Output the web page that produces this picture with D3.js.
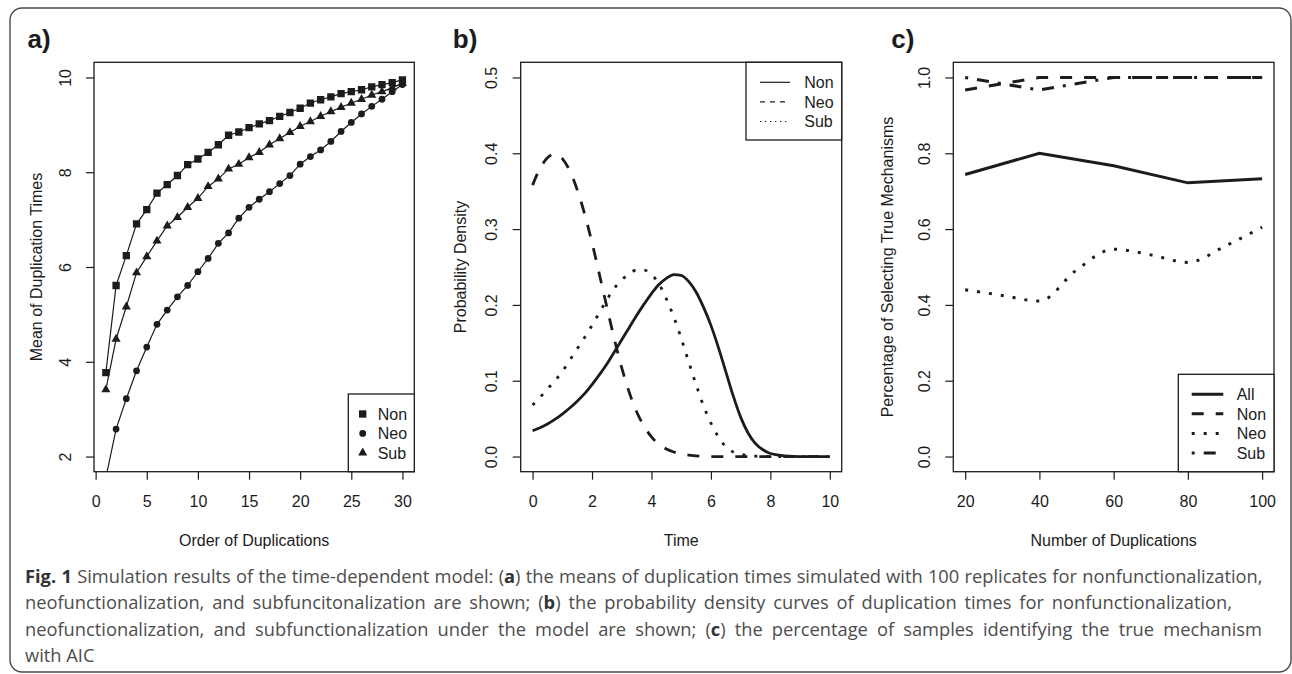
<!DOCTYPE html>
<html>
<head>
<meta charset="utf-8">
<script src="https://cdn.jsdelivr.net/npm/d3@7"></script>
<style>
  body { margin: 0; background: #fff; }
  svg text { font-family: "Liberation Sans", Arial, Helvetica, sans-serif; }
  svg text.caption { font-family: "Open Sans", "Noto Sans", sans-serif; }
</style>
</head>
<body>
<svg id="fig" width="1292" height="674"></svg>
<script>
// ---------- data ----------
// a) mean of duplication times by order of duplication
const orderA = [1,2,3,4,5,6,7,8,9,10,11,12,13,14,15,16,17,18,19,20,21,22,23,24,25,26,27,28,29,30];
const meanNon = [3.77,5.61,6.24,6.91,7.21,7.56,7.74,7.93,8.16,8.28,8.42,8.58,8.78,8.85,8.94,9.02,
                 9.09,9.18,9.26,9.35,9.46,9.53,9.59,9.66,9.70,9.74,9.80,9.85,9.89,9.95];
const meanNeo = [1.55,2.58,3.22,3.81,4.31,4.79,5.09,5.37,5.61,5.90,6.18,6.50,6.72,7.03,7.26,7.43,
                 7.59,7.76,7.93,8.17,8.33,8.47,8.65,8.86,9.05,9.23,9.39,9.54,9.70,9.85];
const meanSub = [3.41,4.48,5.16,5.88,6.22,6.55,6.87,7.05,7.26,7.45,7.70,7.86,8.07,8.17,8.31,8.42,
                 8.58,8.71,8.84,8.97,9.07,9.18,9.28,9.37,9.46,9.54,9.63,9.70,9.78,9.88];

// b) probability density of duplication times
const timeB = [0,0.25,0.5,0.75,1,1.25,1.5,1.75,2,2.25,2.5,2.75,3,3.25,3.5,3.75,4,4.25,4.5,4.75,
               5,5.25,5.5,5.75,6,6.25,6.5,6.75,7,7.25,7.5,7.75,8,8.5,9,9.5,10];
const densNon = [0.034,0.038,0.043,0.049,0.056,0.064,0.073,0.083,0.095,0.108,0.122,0.138,0.154,0.170,
                 0.186,0.201,0.215,0.227,0.235,0.240,0.239,0.231,0.217,0.197,0.173,0.144,0.112,0.080,
                 0.052,0.031,0.017,0.009,0.004,0.001,0,0,0];
const densNeo = [0.358,0.380,0.394,0.399,0.393,0.377,0.352,0.320,0.282,0.240,0.197,0.155,0.117,0.085,
                 0.059,0.040,0.026,0.016,0.010,0.006,0.003,0.002,0.001,0,0,0,0,0,
                 0,0,0,0,0,0,0,0,0];
const densSub = [0.068,0.078,0.089,0.100,0.112,0.127,0.142,0.157,0.173,0.190,0.207,0.222,0.233,0.241,
                 0.246,0.246,0.240,0.228,0.208,0.184,0.156,0.125,0.095,0.067,0.044,0.026,0.013,0.006,
                 0.003,0.001,0.0005,0,0,0,0,0,0];

// c) percentage of selecting the true mechanism
const nDup = [20,40,60,80,100];
const pctAll = [0.744,0.800,0.767,0.722,0.733];
const pctNon = [0.967,1,1,1,1];
const pctSub = [1,0.967,1,1,1];
const nDupNeo = [20,30,40,50,60,70,80,90,100];
const pctNeo = [0.440,0.425,0.410,0.492,0.547,0.532,0.512,0.555,0.605];

const mechLabels = ["Non", "Neo", "Sub"];
const mechLabelsC = ["All", "Non", "Neo", "Sub"];

const captionLines = [
  "Simulation results of the time-dependent model: (a) the means of duplication times simulated with 100 replicates for nonfunctionalization,",
  "neofunctionalization, and subfuncitonalization are shown; (b) the probability density curves of duplication times for nonfunctionalization,",
  "neofunctionalization, and subfunctionalization under the model are shown; (c) the percentage of samples identifying the true mechanism",
  "with AIC"
];
// right edge each caption line is justified to (null = ragged)
const captionRight = [1262, 1232, 1262, null];

// ---------- layout ----------
const ink = "#1c1c1c";
const plotTop = 62.3, plotBottom = 471.7;
const svg = d3.select("#fig");

// R style axis range: data range padded by 4% each side
function padR(dom) {
  const s = (dom[1] - dom[0]) * 0.04;
  return [dom[0] - s, dom[1] + s];
}

// outer rounded frame of the figure
svg.append("rect")
  .attr("x", 10).attr("y", 8)
  .attr("width", 1281).attr("height", 664)
  .attr("rx", 12)
  .attr("fill", "none")
  .attr("stroke", "#4a4a4a")
  .attr("stroke-width", 1.4);

function setupPanel(o) {
  const x = d3.scaleLinear().domain(padR(o.xDom)).range([o.left, o.right]);
  const y = d3.scaleLinear().domain(padR(o.yDom)).range([plotBottom, plotTop]);

  svg.append("clipPath").attr("id", "clip-" + o.id)
    .append("rect")
      .attr("x", o.left).attr("y", plotTop)
      .attr("width", o.right - o.left).attr("height", plotBottom - plotTop);

  // x axis (ticks outward, no domain line: the box is the axis line)
  const gx = svg.append("g")
    .attr("transform", `translate(0,${plotBottom})`)
    .call(d3.axisBottom(x).tickValues(o.xTicks).tickSize(8).tickPadding(16)
      .tickFormat(d3.format("d")));
  gx.select(".domain").remove();

  // y axis with labels parallel to the axis
  const gy = svg.append("g")
    .attr("transform", `translate(${o.left},0)`)
    .call(d3.axisLeft(y).tickValues(o.yTicks).tickSize(8).tickFormat(o.yFmt));
  gy.select(".domain").remove();
  gy.selectAll("text")
    .attr("x", null).attr("dy", null)
    .attr("text-anchor", "middle")
    .attr("transform", "translate(-23.3,0) rotate(-90)");

  [gx, gy].forEach(g => {
    g.attr("font-size", null).attr("font-family", null);
    g.selectAll("line").attr("stroke", ink).attr("stroke-width", 1.2);
    g.selectAll("text").attr("fill", ink).style("font-size", "16px");
  });

  // plot box
  svg.append("rect")
    .attr("x", o.left).attr("y", plotTop)
    .attr("width", o.right - o.left).attr("height", plotBottom - plotTop)
    .attr("fill", "none").attr("stroke", ink).attr("stroke-width", 1.3);

  // axis titles
  svg.append("text")
    .attr("x", (o.left + o.right) / 2).attr("y", 545.7)
    .attr("text-anchor", "middle")
    .style("font-size", "16px").attr("fill", ink)
    .text(o.xTitle);
  svg.append("text")
    .attr("transform", `translate(${o.left - o.yTitleOff},${(plotTop + plotBottom) / 2}) rotate(-90)`)
    .attr("text-anchor", "middle")
    .style("font-size", "16px").attr("fill", ink)
    .text(o.yTitle);

  // panel tag
  svg.append("text")
    .attr("x", o.tagX).attr("y", 48)
    .style("font-size", "26px").style("font-weight", "bold").attr("fill", ink)
    .text(o.tag);

  const plot = svg.append("g").attr("clip-path", `url(#clip-${o.id})`);
  return { x, y, plot };
}

function legendBox(x0, x1, y0, y1) {
  svg.append("rect")
    .attr("x", x0).attr("y", y0).attr("width", x1 - x0).attr("height", y1 - y0)
    .attr("fill", "#fff").attr("stroke", ink).attr("stroke-width", 1.3);
}

// ---------- panel a ----------
const A = setupPanel({
  id: "a", left: 94, right: 414.3,
  xDom: [1, 30], yDom: [2, 10],
  xTicks: [0, 5, 10, 15, 20, 25, 30], yTicks: [2, 4, 6, 8, 10],
  yFmt: d3.format("d"),
  xTitle: "Order of Duplications", yTitle: "Mean of Duplication Times",
  yTitleOff: 52.3, tag: "a)", tagX: 27.5
});

const symA = {
  Non: d3.symbol().type(d3.symbolSquare).size(54),
  Neo: d3.symbol().type(d3.symbolCircle).size(36),
  Sub: d3.symbol().type(d3.symbolTriangle).size(36)
};
const seriesA = [
  { key: "Non", values: meanNon },
  { key: "Neo", values: meanNeo },
  { key: "Sub", values: meanSub }
];
const lineA = d3.line().x(d => A.x(d[0])).y(d => A.y(d[1]));
seriesA.forEach(s => {
  const pts = orderA.map((o, i) => [o, s.values[i]]);
  A.plot.append("path")
    .datum(pts)
    .attr("fill", "none").attr("stroke", ink).attr("stroke-width", 1.2)
    .attr("d", lineA);
  A.plot.selectAll(null)
    .data(pts)
    .enter().append("path")
      .attr("transform", d => `translate(${A.x(d[0])},${A.y(d[1])})`)
      .attr("d", symA[s.key]())
      .attr("fill", ink);
});

legendBox(348.3, 414.3, 394, plotBottom);
mechLabels.forEach((k, i) => {
  const cy = 414 + i * 19.4;
  svg.append("path")
    .attr("transform", `translate(362.7,${cy})`)
    .attr("d", symA[k]())
    .attr("fill", ink);
  svg.append("text")
    .attr("x", 377.7).attr("y", cy + 5.8)
    .style("font-size", "16px").attr("fill", ink)
    .text(k);
});

// ---------- panel b ----------
const B = setupPanel({
  id: "b", left: 520.7, right: 841.7,
  xDom: [0, 10], yDom: [0, 0.5],
  xTicks: [0, 2, 4, 6, 8, 10], yTicks: [0, 0.1, 0.2, 0.3, 0.4, 0.5],
  yFmt: d3.format(".1f"),
  xTitle: "Time", yTitle: "Probability Density",
  yTitleOff: 54.7, tag: "b)", tagX: 452.8
});

const dashB = { Non: null, Neo: "12,12", Sub: "3,9" };
const dashBLegend = { Non: null, Neo: "5,5", Sub: "1.3,3.7" };
const seriesB = [
  { key: "Non", values: densNon },
  { key: "Neo", values: densNeo },
  { key: "Sub", values: densSub }
];
const lineB = d3.line().x(d => B.x(d[0])).y(d => B.y(d[1])).curve(d3.curveMonotoneX);
seriesB.forEach(s => {
  B.plot.append("path")
    .datum(timeB.map((t, i) => [t, s.values[i]]))
    .attr("fill", "none").attr("stroke", ink).attr("stroke-width", 2.8)
    .attr("stroke-dasharray", dashB[s.key])
    .attr("d", lineB);
});

legendBox(746, 841.7, plotTop, 140);
mechLabels.forEach((k, i) => {
  const cy = 82.3 + i * 19.6;
  svg.append("line")
    .attr("x1", 760).attr("x2", 790).attr("y1", cy).attr("y2", cy)
    .attr("stroke", ink).attr("stroke-width", 1.2)
    .attr("stroke-dasharray", dashBLegend[k]);
  svg.append("text")
    .attr("x", 804.3).attr("y", cy + 5.8)
    .style("font-size", "16px").attr("fill", ink)
    .text(k);
});

// ---------- panel c ----------
const C = setupPanel({
  id: "c", left: 953.3, right: 1274,
  xDom: [20, 100], yDom: [0, 1],
  xTicks: [20, 40, 60, 80, 100], yTicks: [0, 0.2, 0.4, 0.6, 0.8, 1.0],
  yFmt: d3.format(".1f"),
  xTitle: "Number of Duplications", yTitle: "Percentage of Selecting True Mechanisms",
  yTitleOff: 60, tag: "c)", tagX: 891.2
});

const dashC = { All: null, Non: "12,12", Neo: "3,9", Sub: "3,9,12,9" };
const seriesC = [
  { key: "All", xs: nDup, values: pctAll },
  { key: "Non", xs: nDup, values: pctNon },
  { key: "Neo", xs: nDupNeo, values: pctNeo },
  { key: "Sub", xs: nDup, values: pctSub }
];
seriesC.forEach(s => {
  const line = d3.line().x(d => C.x(d[0])).y(d => C.y(d[1]))
    .curve(s.key === "Neo" ? d3.curveMonotoneX : d3.curveLinear);
  C.plot.append("path")
    .datum(s.xs.map((n, i) => [n, s.values[i]]))
    .attr("fill", "none").attr("stroke", ink).attr("stroke-width", 3)
    .attr("stroke-dasharray", dashC[s.key])
    .attr("d", line);
});

legendBox(1178.3, 1274, 374.3, plotBottom);
mechLabelsC.forEach((k, i) => {
  const cy = 394.3 + i * 19.55;
  svg.append("line")
    .attr("x1", 1191.7).attr("x2", 1223.3).attr("y1", cy).attr("y2", cy)
    .attr("stroke", ink).attr("stroke-width", 3)
    .attr("stroke-dasharray", dashC[k]);
  svg.append("text")
    .attr("x", 1236.7).attr("y", cy + 5.8)
    .style("font-size", "16px").attr("fill", ink)
    .text(k);
});

// ---------- caption ----------
const capColor = "#4d4d4d";
const capLeft = 25;
captionLines.forEach((line, i) => {
  const t = svg.append("text")
    .attr("class", "caption")
    .attr("x", capLeft).attr("y", 583 + i * 26.4)
    .style("font-size", "18.3px").attr("fill", capColor);
  if (i === 0) {
    t.append("tspan").style("font-weight", "bold").attr("fill", "#333").text("Fig. 1 ");
  }
  // bold panel letters inside parentheses
  line.split(/(\([abc]\))/).forEach(part => {
    const m = part.match(/^\(([abc])\)$/);
    if (m) {
      t.append("tspan").text("(");
      t.append("tspan").style("font-weight", "bold").attr("fill", "#333").text(m[1]);
      t.append("tspan").text(")");
    } else {
      t.append("tspan").text(part);
    }
  });
  // justify by spreading the word gaps
  if (captionRight[i]) {
    const natural = t.node().getComputedTextLength();
    const gaps = (line.match(/ /g) || []).length + (i === 0 ? 1 : 0);
    const extra = (captionRight[i] - capLeft - natural) / gaps;
    if (extra > 0) t.style("word-spacing", extra + "px");
    else t.attr("textLength", captionRight[i] - capLeft).attr("lengthAdjust", "spacingAndGlyphs");
  }
});
</script>
</body>
</html>
